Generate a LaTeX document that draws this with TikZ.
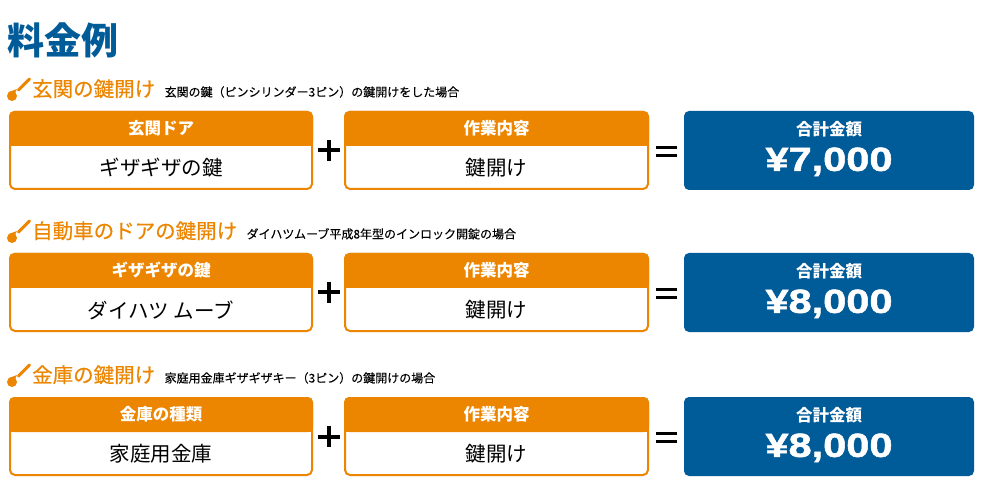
\documentclass[tikz,border=0pt]{standalone}
\usepackage{fontspec}
\setmainfont{Noto Sans CJK JP}
\newfontfamily\pricefont{Liberation Sans Bold}[FakeStretch=1.24, FakeBold=1.6]
\usetikzlibrary{calc,positioning}
\definecolor{keyorange}{RGB}{236,134,0}
\definecolor{keyblue}{RGB}{0,91,153}
\def\brush(#1){\fill[keyorange] (12,#1-15) circle (5); \fill[keyorange] (9,#1-19) -- (17,#1-22) -- (12,#1-12) -- cycle; \draw[keyorange, line width=3pt, line cap=round] (18.5,#1-21) -- (29.5,#1-32);}
\tikzset{
	itembox/.style={draw=keyorange, fill=white, line width=2pt, rounded corners=5pt, minimum height=77pt, inner sep=0pt},
	totalbox/.style={fill=keyblue, rounded corners=5pt, minimum height=79pt, minimum width=290pt, inner sep=0pt},
	headtext/.style={text=white, inner sep=0pt, font=\bfseries\fontsize{16.5pt}{16.5pt}\selectfont},
	bodytext/.style={inner sep=0pt, font=\fontsize{20.5pt}{20.5pt}\selectfont},
	pricetext/.style={text=white, inner sep=0pt, font=\pricefont\fontsize{33.5pt}{33.5pt}\selectfont},
	rowhead/.style={anchor=base west, text=keyorange, inner sep=0pt, font=\fontsize{20.5pt}{20.5pt}\selectfont\addfontfeature{FakeBold=0.4}},
	rowdesc/.style={anchor=base west, inner sep=0pt, font=\fontsize{12pt}{12pt}\selectfont\addfontfeature{FakeBold=0.15}},
	sign/.style={line width=4pt, black}
}
\begin{document}
\begin{tikzpicture}[x=1pt, y=-1pt]
			%%%%% START %%%%%
			
			\fill[white] (0,0) rectangle (1000,502);
			\useasboundingbox (0,0) rectangle (1000,502);
			
			\node[anchor=base west, inner sep=0pt, text=keyblue, font=\bfseries\fontsize{37pt}{37pt}\selectfont] (title) at (7,55) {料金例};
			
			%% row 1
			\brush(111)
			\node[rowhead] (head1) at (32,96.5) {玄関の鍵開け};
			\node[rowdesc] (desc1) at ([xshift=9pt]head1.base east) {玄関の鍵（ピンシリンダー3ピン）の鍵開けをした場合};
			
			\node[itembox, minimum width=302pt] (kind1) at (161,150.5) {};
			\fill[keyorange, rounded corners=5pt] (kind1.north west) rectangle ($(kind1.north east)+(0,35)$);
			\fill[keyorange] ($(kind1.north west)+(0,25)$) rectangle ($(kind1.north east)+(0,35)$);
			\node[headtext] (kind1head) at ($(kind1.north)+(0,17.5)$) {玄関ドア};
			\node[bodytext] (kind1body) at ($(kind1.north)+(0,57)$) {ギザギザの鍵};
			
			\node[itembox, minimum width=303pt] (work1) at (496.5,150.5) {};
			\fill[keyorange, rounded corners=5pt] (work1.north west) rectangle ($(work1.north east)+(0,35)$);
			\fill[keyorange] ($(work1.north west)+(0,25)$) rectangle ($(work1.north east)+(0,35)$);
			\node[headtext] (work1head) at ($(work1.north)+(0,17.5)$) {作業内容};
			\node[bodytext] (work1body) at ($(work1.north)+(0,57)$) {鍵開け};
			
			\node[totalbox] (total1) at (829,150.5) {};
			\node[headtext] (total1head) at ($(total1.north)+(0,18.5)$) {合計金額};
			\node[pricetext] (total1price) at ($(total1.north)+(0,51)$) {¥7,000};
			
			\coordinate (plus1) at ($(kind1.east)!0.5!(work1.west)$);
			\draw[sign] ($(plus1)+(-11,0)$) -- ($(plus1)+(11,0)$);
			\draw[sign] ($(plus1)+(0,-10.5)$) -- ($(plus1)+(0,10.5)$);
			\coordinate (eq1) at ($(work1.east)!0.5!(total1.west)$);
			\draw[sign, line width=3.5pt] ($(eq1)+(-10.5,-3)$) -- ($(eq1)+(10.5,-3)$);
			\draw[sign, line width=3.5pt] ($(eq1)+(-10.5,5)$) -- ($(eq1)+(10.5,5)$);
			
			%% row 2
			\brush(253)
			\node[rowhead] (head2) at (32,238.5) {自動車のドアの鍵開け};
			\node[rowdesc] (desc2) at ([xshift=9pt]head2.base east) {ダイハツムーブ平成8年型のインロック開錠の場合};
			
			\node[itembox, minimum width=302pt] (kind2) at (161,292.5) {};
			\fill[keyorange, rounded corners=5pt] (kind2.north west) rectangle ($(kind2.north east)+(0,35)$);
			\fill[keyorange] ($(kind2.north west)+(0,25)$) rectangle ($(kind2.north east)+(0,35)$);
			\node[headtext] (kind2head) at ($(kind2.north)+(0,17.5)$) {ギザギザの鍵};
			\node[bodytext] (kind2body) at ($(kind2.north)+(0,57)$) {ダイハツ ムーブ};
			
			\node[itembox, minimum width=303pt] (work2) at (496.5,292.5) {};
			\fill[keyorange, rounded corners=5pt] (work2.north west) rectangle ($(work2.north east)+(0,35)$);
			\fill[keyorange] ($(work2.north west)+(0,25)$) rectangle ($(work2.north east)+(0,35)$);
			\node[headtext] (work2head) at ($(work2.north)+(0,17.5)$) {作業内容};
			\node[bodytext] (work2body) at ($(work2.north)+(0,57)$) {鍵開け};
			
			\node[totalbox] (total2) at (829,292.5) {};
			\node[headtext] (total2head) at ($(total2.north)+(0,18.5)$) {合計金額};
			\node[pricetext] (total2price) at ($(total2.north)+(0,51)$) {¥8,000};
			
			\coordinate (plus2) at ($(kind2.east)!0.5!(work2.west)$);
			\draw[sign] ($(plus2)+(-11,0)$) -- ($(plus2)+(11,0)$);
			\draw[sign] ($(plus2)+(0,-10.5)$) -- ($(plus2)+(0,10.5)$);
			\coordinate (eq2) at ($(work2.east)!0.5!(total2.west)$);
			\draw[sign, line width=3.5pt] ($(eq2)+(-10.5,-3)$) -- ($(eq2)+(10.5,-3)$);
			\draw[sign, line width=3.5pt] ($(eq2)+(-10.5,5)$) -- ($(eq2)+(10.5,5)$);
			
			%% row 3
			\brush(397)
			\node[rowhead] (head3) at (32,382.5) {金庫の鍵開け};
			\node[rowdesc] (desc3) at ([xshift=9pt]head3.base east) {家庭用金庫ギザギザキー（3ピン）の鍵開けの場合};
			
			\node[itembox, minimum width=302pt] (kind3) at (161,436.5) {};
			\fill[keyorange, rounded corners=5pt] (kind3.north west) rectangle ($(kind3.north east)+(0,35)$);
			\fill[keyorange] ($(kind3.north west)+(0,25)$) rectangle ($(kind3.north east)+(0,35)$);
			\node[headtext] (kind3head) at ($(kind3.north)+(0,17.5)$) {金庫の種類};
			\node[bodytext] (kind3body) at ($(kind3.north)+(0,57)$) {家庭用金庫};
			
			\node[itembox, minimum width=303pt] (work3) at (496.5,436.5) {};
			\fill[keyorange, rounded corners=5pt] (work3.north west) rectangle ($(work3.north east)+(0,35)$);
			\fill[keyorange] ($(work3.north west)+(0,25)$) rectangle ($(work3.north east)+(0,35)$);
			\node[headtext] (work3head) at ($(work3.north)+(0,17.5)$) {作業内容};
			\node[bodytext] (work3body) at ($(work3.north)+(0,57)$) {鍵開け};
			
			\node[totalbox] (total3) at (829,436.5) {};
			\node[headtext] (total3head) at ($(total3.north)+(0,18.5)$) {合計金額};
			\node[pricetext] (total3price) at ($(total3.north)+(0,51)$) {¥8,000};
			
			\coordinate (plus3) at ($(kind3.east)!0.5!(work3.west)$);
			\draw[sign] ($(plus3)+(-11,0)$) -- ($(plus3)+(11,0)$);
			\draw[sign] ($(plus3)+(0,-10.5)$) -- ($(plus3)+(0,10.5)$);
			\coordinate (eq3) at ($(work3.east)!0.5!(total3.west)$);
			\draw[sign, line width=3.5pt] ($(eq3)+(-10.5,-3)$) -- ($(eq3)+(10.5,-3)$);
			\draw[sign, line width=3.5pt] ($(eq3)+(-10.5,5)$) -- ($(eq3)+(10.5,5)$);
			
			%%%%% END %%%%%
\end{tikzpicture}
\end{document}
